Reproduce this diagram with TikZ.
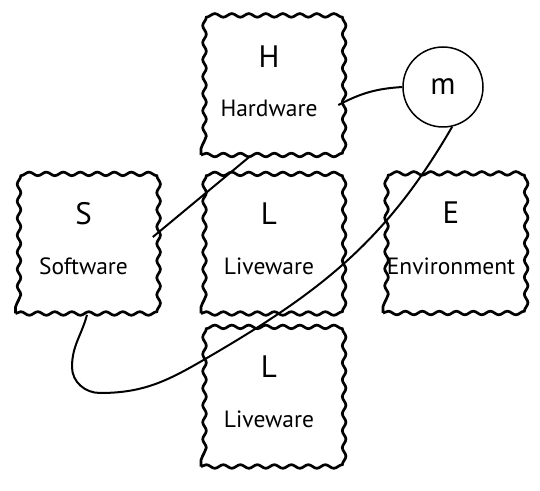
\documentclass[tikz,border=0pt]{standalone}
\usepackage{fontspec}
\setmainfont{PT Sans}
\usetikzlibrary{decorations.pathmorphing,calc}
\begin{document}
\begin{tikzpicture}[x=1pt,y=1pt,
  wavybox/.style={draw, line width=2.7pt, minimum width=136pt, minimum height=136pt, inner sep=0pt,
    decorate, decoration={snake, segment length=17pt, amplitude=1.8pt}},
  bigletter/.style={font=\fontsize{31}{31}\selectfont, inner sep=0pt},
  word/.style={font=\fontsize{23.5}{23.5}\selectfont, inner sep=0pt},
  link/.style={line width=2pt}]
\useasboundingbox (0,0) rectangle (540,490);
\node[wavybox] (H) at (269,403) {};
\node[wavybox] (S) at (83.5,244.5) {};
\node[wavybox] (L1) at (269,244.5) {};
\node[wavybox] (E) at (451,245) {};
\node[wavybox] (L2) at (269,91.5) {};
\node[draw, circle, line width=1.5pt, minimum size=80pt, inner sep=0pt, font=\fontsize{31}{31}\selectfont] (m) at (443,403) {m};
\node[bigletter] (Ht) at ($(H.center)+(0,30.5)$) {H};
\node[word] (Hw) at ($(H.center)+(0,-21.5)$) {Hardware};
\node[bigletter] (St) at ($(S.center)+(0,32)$) {S};
\node[word] (Sw) at ($(S.center)+(0,-21)$) {Software};
\node[bigletter] (L1t) at ($(L1.center)+(0,32)$) {L};
\node[word] (L1w) at ($(L1.center)+(0,-21)$) {Liveware};
\node[bigletter] (Et) at ($(E.center)+(0,32)$) {E};
\node[word] (Ew) at ($(E.center)+(0,-21)$) {Environment};
\node[bigletter] (L2t) at ($(L2.center)+(0,32)$) {L};
\node[word] (L2w) at ($(L2.center)+(0,-21)$) {Liveware};
\coordinate (loopA) at (200,128);
\coordinate (loopB) at (100,97);
\coordinate (loopC) at (72,123);
\draw[link] ($(H.east)+(0,-18)$) to[bend left=12] (m.west);
\draw[link] ($(H.south)+(-19,0)$) -- ($(S.east)+(0,8.5)$);
\draw[link] (m.-77) to[out=-120,in=30] (loopA) to[out=210,in=0] (loopB)
  to[out=180,in=-90] (loopC) to[out=90,in=-105] ($(S.south)+(3.5,0)$);
\end{tikzpicture}
\end{document}
